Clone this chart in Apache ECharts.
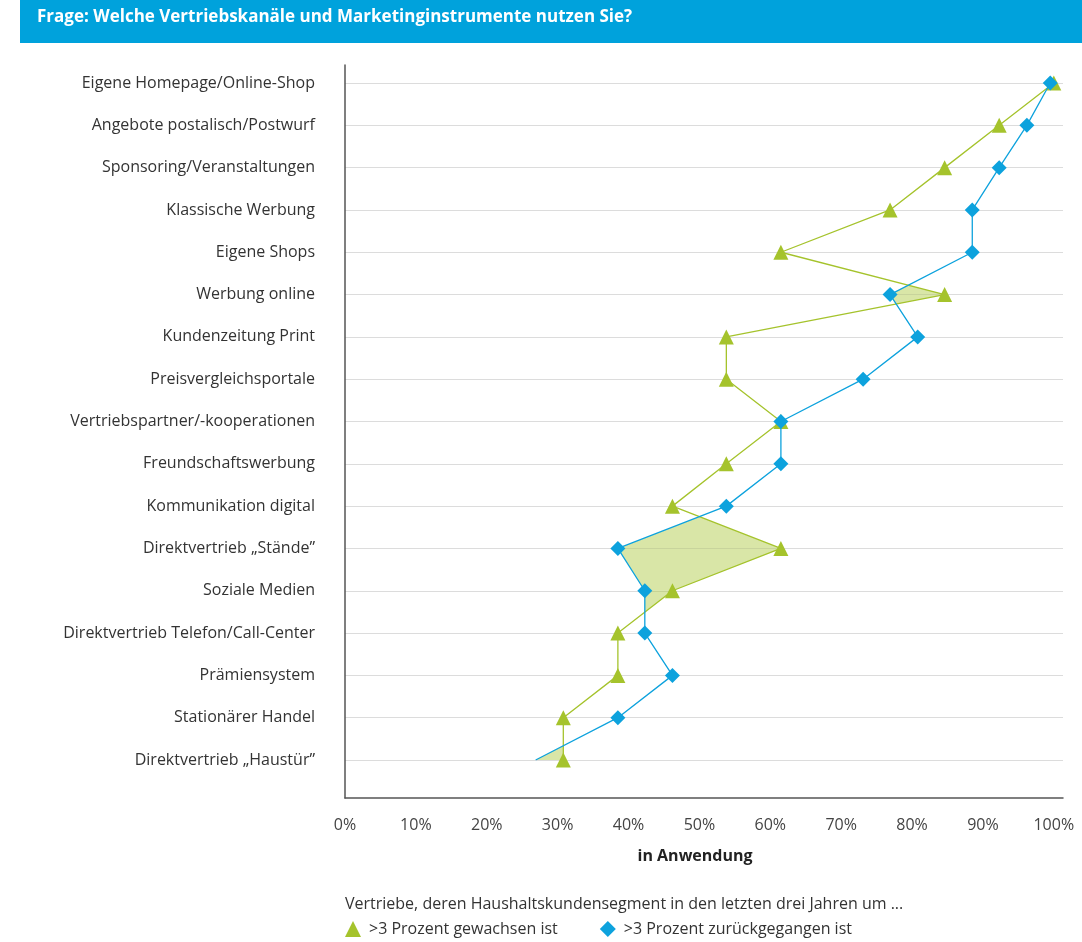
<!DOCTYPE html>
<html>
<head>
<meta charset="utf-8">
<style>
  html, body { margin: 0; padding: 0; background: #fff; }
  #chart { width: 1082px; height: 942px; }
</style>
<script src="https://cdn.jsdelivr.net/npm/echarts@6/dist/echarts.min.js"></script>
</head>
<body>
<div id="chart"></div>
<script>
// Kategorien (von oben nach unten)
var categories = [
    'Eigene Homepage/Online-Shop',
    'Angebote postalisch/Postwurf',
    'Sponsoring/Veranstaltungen',
    'Klassische Werbung',
    'Eigene Shops',
    'Werbung online',
    'Kundenzeitung Print',
    'Preisvergleichsportale',
    'Vertriebspartner/-kooperationen',
    'Freundschaftswerbung',
    'Kommunikation digital',
    'Direktvertrieb \u201eStände\u201d',
    'Soziale Medien',
    'Direktvertrieb Telefon/Call-Center',
    'Prämiensystem',
    'Stationärer Handel',
    'Direktvertrieb \u201eHaustür\u201d'
];

// >3 Prozent gewachsen (in %)
var grown = [100, 92.3, 84.6, 76.9, 61.5, 84.6, 53.8, 53.8, 61.5, 53.8, 46.2, 61.5, 46.2, 38.5, 38.5, 30.8, 30.8];
// >3 Prozent zurückgegangen (in %)
var shrunk = [99.5, 96.2, 92.3, 88.5, 88.5, 76.9, 80.8, 73.1, 61.5, 61.5, 53.8, 38.5, 42.3, 42.3, 46.2, 38.5, 26.9];

var xTicks = [0, 10, 20, 30, 40, 50, 60, 70, 80, 90, 100];

var nameGrown = '>3 Prozent gewachsen ist';
var nameShrunk = '>3 Prozent zurückgegangen ist';

var green = '#a5c32c';
var blue = '#0da2dd';
var font = '"Open Sans", "Noto Sans", sans-serif';

var chart = echarts.init(document.getElementById('chart'));

// Fläche zwischen den Linien, wo "gewachsen" rechts von "zurückgegangen" liegt
function renderFill(params, api) {
    var i = params.dataIndex;
    var g0 = grown[i], g1 = grown[i + 1], b0 = shrunk[i], b1 = shrunk[i + 1];
    var d0 = g0 - b0, d1 = g1 - b1;
    if (d0 <= 0 && d1 <= 0) return null;
    var G0 = api.coord([g0, i]), G1 = api.coord([g1, i + 1]);
    var B0 = api.coord([b0, i]), B1 = api.coord([b1, i + 1]);
    var pts;
    if (d0 >= 0 && d1 >= 0) {
        pts = [G0, G1, B1, B0];
    } else {
        var t = d0 / (d0 - d1);
        var C = [G0[0] + t * (G1[0] - G0[0]), G0[1] + t * (G1[1] - G0[1])];
        pts = d0 > 0 ? [G0, C, B0] : [C, G1, B1];
    }
    return {
        type: 'polygon',
        shape: { points: pts },
        style: { fill: 'rgba(170,200,60,0.45)' }
    };
}

var segIdx = grown.slice(1).map(function (v, i) { return i; });

var xMax = 101.3;

var option = {
    animation: false,
    textStyle: { fontFamily: font },
    graphic: [{
        type: 'rect',
        left: 20,
        top: 0,
        z: -10,
        shape: { width: 1062, height: 43 },
        style: { fill: '#00a2dc' }
    }],
    title: [{
        text: 'Frage: Welche Vertriebskanäle und Marketinginstrumente nutzen Sie?',
        left: 37,
        top: 9,
        padding: 0,
        z: 10,
        textStyle: { color: '#fff', fontSize: 17, fontWeight: 'bold', fontFamily: font }
    }, {
        text: 'Vertriebe, deren Haushaltskundensegment in den letzten drei Jahren um ...',
        left: 345,
        top: 896,
        padding: 0,
        textStyle: { color: '#333', fontSize: 16, fontWeight: 'normal', fontFamily: font }
    }],
    legend: {
        data: [
            { name: nameGrown, icon: 'triangle' },
            { name: nameShrunk, icon: 'diamond' }
        ],
        left: 345,
        top: 921,
        padding: 0,
        itemWidth: 16,
        itemHeight: 16,
        itemGap: 42,
        textStyle: { color: '#333', fontSize: 16, fontFamily: font, padding: [0, 0, 0, 3] }
    },
    grid: [
        { left: 345, top: 83, width: 718, bottom: 182 },
        { left: 345, top: 65, width: 718, bottom: 144 }
    ],
    xAxis: [{
        gridIndex: 0,
        type: 'value',
        min: 0,
        max: xMax,
        show: false
    }, {
        gridIndex: 1,
        type: 'value',
        min: 0,
        max: xMax,
        interval: 10,
        axisLine: { show: true, lineStyle: { color: '#555', width: 1.5 } },
        axisTick: { show: false },
        splitLine: { show: false },
        axisLabel: {
            margin: 19,
            color: '#444',
            fontSize: 16,
            customValues: xTicks,
            formatter: '{value}%'
        },
        name: 'in Anwendung',
        nameLocation: 'middle',
        nameGap: 50,
        nameTextStyle: { color: '#222', fontSize: 16, fontWeight: 'bold', padding: [0, 18, 0, 0] }
    }],
    yAxis: [{
        gridIndex: 0,
        type: 'category',
        inverse: true,
        boundaryGap: false,
        data: categories,
        axisLine: { show: false },
        axisTick: { show: false },
        axisLabel: { margin: 30, color: '#333', fontSize: 16 },
        splitLine: { show: true, lineStyle: { color: '#dcdcdc', width: 1.2 } }
    }, {
        gridIndex: 1,
        type: 'value',
        axisLine: { show: true, lineStyle: { color: '#555', width: 1.5 } },
        axisTick: { show: false },
        axisLabel: { show: false },
        splitLine: { show: false }
    }],
    series: [{
        type: 'custom',
        xAxisIndex: 0,
        yAxisIndex: 0,
        renderItem: renderFill,
        data: segIdx,
        z: 1,
        silent: true
    }, {
        name: nameGrown,
        type: 'line',
        xAxisIndex: 0,
        yAxisIndex: 0,
        data: grown,
        symbol: 'triangle',
        symbolSize: 15,
        z: 2,
        lineStyle: { color: green, width: 1.3 },
        itemStyle: { color: green }
    }, {
        name: nameShrunk,
        type: 'line',
        xAxisIndex: 0,
        yAxisIndex: 0,
        data: shrunk.map(function (v, i) {
            return i === shrunk.length - 1 ? { value: v, symbol: 'none' } : v;
        }),
        symbol: 'diamond',
        symbolSize: 15,
        z: 3,
        lineStyle: { color: blue, width: 1.3 },
        itemStyle: { color: blue }
    }]
};

chart.setOption(option);
</script>
</body>
</html>
